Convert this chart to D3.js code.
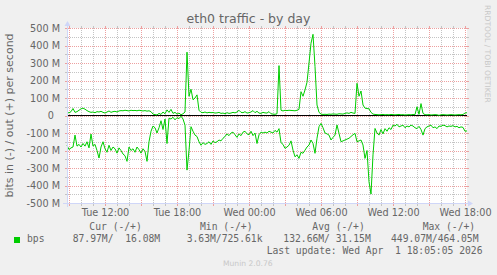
<!DOCTYPE html>
<html>
<head>
<meta charset="utf-8">
<script src="https://cdn.jsdelivr.net/npm/d3@7"></script>
<style>
  body { margin: 0; background: #f0f0f0; }
  svg { display: block; }
  text { fill: #666; font-family: "DejaVu Sans", sans-serif; }
  .mono { font-family: "DejaVu Sans Mono", monospace; font-size: 9.7px; white-space: pre; }
  .grid rect { shape-rendering: crispEdges; }
</style>
</head>
<body>
<svg id="chart" width="497" height="275"></svg>
<script>
// eth0 traffic - by day (munin / rrdtool look)

// samples every 10 minutes, from Tue 31 Mar 08:50 to Wed 1 Apr 18:10
const startTime = new Date(2026, 2, 31, 8, 50);
const stepMinutes = 10;

// out (+), Mbit/s
const outValues = [
  18, 15, 22, 40, 18, 22, 30, 38, 42, 36,
  28, 22, 18, 20, 16, 22, 20, 24, 18, 14,
  20, 26, 18, 22, 24, 20, 26, 28, 27, 30,
  28, 26, 30, 28, 29, 27, 30, 28, 26, 28,
  25, 27, 22, 8, 5, 3, 12, 6, 20, 10,
  32, 18, 35, 12, 18, 8, 14, 4, 10, 20,
  362, 110, 150, 90, 100, 118, 30, 18, 16, 20,
  15, 18, 16, 17, 14, 15, 18, 12, 14, 10,
  16, 12, 14, 18, 15, 20, 30, 18, 16, 22,
  14, 16, 20, 28, 16, 24, 14, 12, 18, 15,
  14, 22, 10, 8, 7, 10, 285, 30, 26, 30,
  28, 30, 29, 28, 27, 30, 35, 136, 110, 146,
  190, 300, 413, 464, 280, 60, 18, 8, 6, 7,
  6, 8, 7, 9, 8, 7, 10, 9, 8, 12,
  15, 12, 18, 14, 12, 184, 110, 140, 60, 42,
  40, 38, 18, 8, 6, 5, 4, 5, 6, 4,
  5, 4, 6, 5, 4, 5, 6, 4, 5, 3,
  4, 5, 4, 6, 5, 50, 6, 68, 12, 5,
  4, 5, 3, 4, 5, 4, 1, 4, 5, 4,
  3, 4, 5, 4, 3, 4, 5, 4, 6, 14,
  16
];

// in (-), Mbit/s, drawn below zero
const inValues = [
  170, 195, 185, 180, 112, 175, 165, 180, 160, 175,
  150, 185, 106, 175, 165, 200, 243, 180, 150, 190,
  210, 170, 200, 180, 190, 215, 185, 200, 220, 230,
  262, 180, 200, 190, 210, 180, 195, 215, 190, 205,
  262, 150, 90, 60, 70, 100, 70, 30, 80, 20,
  160, 15, 20, 10, 25, 12, 18, 4, 20, 55,
  312, 200, 64, 90, 112, 120, 150, 170, 155, 165,
  160, 150, 165, 145, 155, 150, 140, 145, 130, 120,
  105, 115, 100, 95, 110, 125, 105, 115, 95, 90,
  105, 110, 90, 115, 100, 160, 110, 95, 100, 95,
  100, 90, 95, 100, 85, 95, 75, 155, 165, 188,
  180, 170, 145, 198, 236, 225, 245, 210, 216, 198,
  180, 169, 140, 160, 216, 130, 64, 45, 70, 100,
  105, 112, 140, 125, 112, 54, 102, 150, 145, 140,
  135, 130, 120, 110, 102, 150, 145, 140, 169, 245,
  200, 379, 449, 225, 74, 100, 112, 80, 105, 75,
  90, 70, 80, 55, 60, 50, 65, 60, 55, 70,
  60, 65, 55, 60, 70, 75, 62, 80, 112, 75,
  65, 60, 55, 70, 65, 75, 60, 62, 55, 58,
  65, 60, 62, 58, 65, 62, 70, 65, 68, 90,
  88
];

const yTicks = [500, 400, 300, 200, 100, 0, -100, -200, -300, -400, -500];
const xTickTimes = [
  new Date(2026, 2, 31, 12), new Date(2026, 2, 31, 18),
  new Date(2026, 3, 1, 0), new Date(2026, 3, 1, 6),
  new Date(2026, 3, 1, 12), new Date(2026, 3, 1, 18)
];

const legendHeaders = ["Cur (-/+)", "Min (-/+)", "Avg (-/+)", "Max (-/+)"];
const legendValues = ["87.97M/  16.08M", "3.63M/725.61k", "132.66M/ 31.15M", "449.07M/464.05M"];
const lastUpdate = "Last update: Wed Apr  1 18:05:05 2026";

const W = 497, H = 275;
const plot = { left: 67, right: 467, top: 28, bottom: 203 };
const gridColor = "#c4c4c4";
const majorColor = "#eda0a0";
const axisColor = "#cfd6f8";
const green = "#00cc00";

const svg = d3.select("#chart");
const timeAt = (i) => d3.timeMinute.offset(startTime, i * stepMinutes);
const endTime = timeAt(outValues.length - 1);

const x = d3.scaleTime().domain([startTime, endTime]).range([plot.left, plot.right]);
const y = d3.scaleLinear().domain([-500, 500]).range([plot.bottom, plot.top]);
const px = (v) => Math.round(v);

// dotted patterns (1 px on, 1 px off)
const defs = svg.append("defs");
function dotPattern(id, color, horizontal) {
  const p = defs.append("pattern").attr("id", id).attr("patternUnits", "userSpaceOnUse")
    .attr("width", horizontal ? 2 : 1).attr("height", horizontal ? 1 : 2);
  p.append("rect").attr("width", 1).attr("height", 1).attr("fill", color);
}
dotPattern("minorH", gridColor, true);
dotPattern("minorV", gridColor, false);
dotPattern("majorH", majorColor, true);
dotPattern("majorV", majorColor, false);

svg.append("rect").attr("width", W).attr("height", H).attr("fill", "#f0f0f0");
svg.append("rect")
  .attr("x", plot.left).attr("y", plot.top)
  .attr("width", plot.right - plot.left).attr("height", plot.bottom - plot.top)
  .attr("fill", "#fff");

// grid: dotted lines inside, short solid ticks outside
const grid = svg.append("g").attr("class", "grid");
function hLine(v, color, pat) {
  const yy = px(y(v));
  grid.append("rect").attr("x", plot.left).attr("y", yy).attr("width", plot.right - plot.left).attr("height", 1)
    .attr("fill", `url(#${pat})`);
  grid.append("rect").attr("x", plot.left - 2).attr("y", yy).attr("width", 2).attr("height", 1).attr("fill", color);
  grid.append("rect").attr("x", plot.right).attr("y", yy).attr("width", 2).attr("height", 1).attr("fill", color);
}
function vLine(t, color, pat) {
  const xx = px(x(t));
  grid.append("rect").attr("x", xx).attr("y", plot.top).attr("width", 1).attr("height", plot.bottom - plot.top)
    .attr("fill", `url(#${pat})`);
  grid.append("rect").attr("x", xx).attr("y", plot.top - 2).attr("width", 1).attr("height", 2).attr("fill", color);
  grid.append("rect").attr("x", xx).attr("y", plot.bottom).attr("width", 1).attr("height", 3).attr("fill", color);
}

d3.range(-500, 501, 50).filter((v) => v % 100 !== 0).forEach((v) => hLine(v, gridColor, "minorH"));
d3.timeHour.range(startTime, endTime).filter((t) => t.getHours() % 3 !== 0)
  .forEach((t) => vLine(t, gridColor, "minorV"));
yTicks.forEach((v) => hLine(v, majorColor, "majorH"));
d3.timeHour.every(3).range(startTime, endTime).forEach((t) => vLine(t, majorColor, "majorV"));

// zero rule
const zeroY = Math.floor(y(0)) + 0.5;
svg.append("line")
  .attr("x1", plot.left).attr("x2", plot.right)
  .attr("y1", zeroY).attr("y2", zeroY)
  .attr("stroke", "#000");

// series
const line = d3.line().x((d, i) => x(timeAt(i))).y((d) => y(d));
svg.append("path").datum(outValues.map((v) => v))
  .attr("d", line).attr("fill", "none").attr("stroke", green).attr("stroke-width", 1);
svg.append("path").datum(inValues.map((v) => -v))
  .attr("d", line).attr("fill", "none").attr("stroke", green).attr("stroke-width", 1);

// axes with arrows
const ax = plot.left + 0.5, ay = plot.bottom + 0.5;
svg.append("line").attr("x1", ax).attr("x2", ax).attr("y1", plot.bottom + 4).attr("y2", plot.top - 3)
  .attr("stroke", axisColor);
svg.append("line").attr("x1", plot.left - 4).attr("x2", plot.right + 2).attr("y1", ay).attr("y2", ay)
  .attr("stroke", axisColor);
svg.append("path").attr("fill", axisColor)
  .attr("d", `M${ax - 3},${plot.top - 2} L${ax},${plot.top - 7} L${ax + 3},${plot.top - 2} Z`);
svg.append("path").attr("fill", axisColor)
  .attr("d", `M${plot.right + 1},${ay - 3} L${plot.right + 6},${ay} L${plot.right + 1},${ay + 3} Z`);

// tick labels
const yAxis = svg.append("g")
  .attr("transform", `translate(${plot.left},0)`)
  .call(d3.axisLeft(y).tickValues(yTicks).tickSize(0).tickPadding(7)
    .tickFormat((d) => (d === 0 ? "0\u00a0\u00a0" : `${d} M`)));
const xAxis = svg.append("g")
  .attr("transform", `translate(0,${plot.bottom})`)
  .call(d3.axisBottom(x).tickValues(xTickTimes).tickSize(0).tickPadding(6.5)
    .tickFormat(d3.timeFormat("%a %H:%M")));
[yAxis, xAxis].forEach((g) => {
  g.select(".domain").remove();
  g.selectAll("text").attr("fill", "#666").style("font-family", "DejaVu Sans").style("font-size", "9.7px");
});
yAxis.selectAll("text").style("white-space", "pre");

// titles
svg.append("text").attr("x", W / 2).attr("y", 23).attr("text-anchor", "middle")
  .style("font-size", "12.5px").text("eth0 traffic - by day");
svg.append("text")
  .attr("transform", `translate(13,${(plot.top + plot.bottom) / 2}) rotate(-90)`)
  .attr("text-anchor", "middle").style("font-size", "11px")
  .text("bits in (-) / out (+) per second");
svg.append("text")
  .attr("transform", "translate(485,5) rotate(90)")
  .style("font-size", "7.6px").style("fill", "#c8c8c8")
  .text("RRDTOOL / TOBI OETIKER");

// legend
const headerX = [89.3, 200, 312.3, 422.7];
svg.selectAll(".hdr").data(legendHeaders).join("text")
  .attr("class", "mono hdr").attr("x", (d, i) => headerX[i]).attr("y", 230).text((d) => d);
svg.append("rect").attr("x", 14).attr("y", 237).attr("width", 6).attr("height", 6).attr("fill", green);
svg.append("text").attr("class", "mono").attr("x", 27).attr("y", 242).text("bps");
const valueX = [72.7, 186.7, 283.3, 391];
svg.selectAll(".val").data(legendValues).join("text")
  .attr("class", "mono val").attr("x", (d, i) => valueX[i]).attr("y", 242).text((d) => d);
svg.append("text").attr("class", "mono").attr("x", 482.5).attr("y", 253.5)
  .attr("text-anchor", "end").text(lastUpdate);
svg.append("text").attr("x", 223).attr("y", 266)
  .style("font-size", "7.6px").style("fill", "#c8c8c8").text("Munin 2.0.76");
</script>
</body>
</html>
